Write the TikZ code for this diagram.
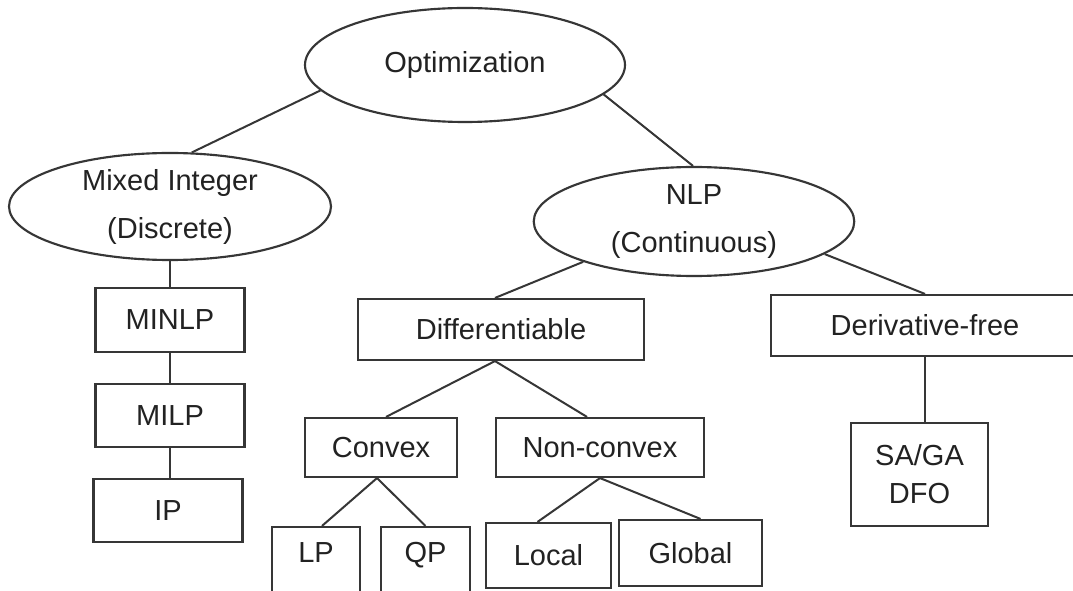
\documentclass[tikz,border=0pt]{standalone}
\usepackage{fontspec}
\setmainfont{Liberation Sans}
\usetikzlibrary{shapes.geometric,calc}
\definecolor{ln}{HTML}{363636}
\definecolor{tx}{HTML}{222222}
\tikzset{
  oval/.style={ellipse, draw=ln, line width=1.6pt, inner sep=0pt, text=tx, align=center,
    font=\fontsize{21.75}{36}\selectfont},
  bx/.style={rectangle, draw=ln, line width=1.6pt, inner sep=0pt, text=tx, align=center,
    font=\fontsize{21.75}{28.5}\selectfont},
  link/.style={draw=ln, line width=1.5pt}
}
\begin{document}
\begin{tikzpicture}[x=0.75pt,y=-0.75pt]
\clip (0,0) rectangle (1073,591);
\fill[white] (0,0) rectangle (1073,591);
% ellipses
\node[oval, minimum width=240pt, minimum height=85.5pt] (opt) at (465,65) {Optimization};
\node[oval, minimum width=241.5pt, minimum height=80.25pt] (mixed) at (170,206.5) {Mixed Integer\\(Discrete)};
\node[oval, minimum width=240.4pt, minimum height=81.75pt] (nlp) at (694,221.5) {NLP\\(Continuous)};
% left column
\node[bx, minimum width=111.75pt, minimum height=48pt] (minlp) at (170,320) {MINLP};
\node[bx, minimum width=111.75pt, minimum height=47.25pt] (milp) at (170,415.5) {MILP};
\node[bx, minimum width=111.75pt, minimum height=47.25pt] (ip) at (168,510.5) {IP};
% NLP subtree
\node[bx, minimum width=214.5pt, minimum height=45.75pt] (diff) at (501,329.5) {Differentiable};
\node[bx, minimum width=231pt, minimum height=45.75pt] (deriv) at (925,325.5) {Derivative-free};
\node[bx, minimum width=114pt, minimum height=44.25pt] (convex) at (381,447.5) {Convex};
\node[bx, minimum width=156pt, minimum height=44.25pt] (nc) at (600,447.5) {Non-convex};
\node[bx, minimum width=102.75pt, minimum height=77.25pt] (saga) at (919.5,474.5) {SA/GA\\DFO};
\node[bx, minimum width=66pt, minimum height=62.25pt, text height=16pt, text depth=25.2pt] (lp) at (316,568.5) {LP};
\node[bx, minimum width=66.75pt, minimum height=62.25pt, text height=16pt, text depth=25.2pt] (qp) at (425.5,568.5) {QP};
\node[bx, minimum width=93.75pt, minimum height=48.75pt] (local) at (548.5,555.5) {Local};
\node[bx, minimum width=107.25pt, minimum height=49.5pt] (global) at (690.5,553) {Global};
% connectors
\draw[link] (opt.190) -- (mixed.68);
\draw[link] (opt.348) -- (nlp.91);
\draw[link] (mixed.south) -- (minlp.north);
\draw[link] (minlp.south) -- (milp.north);
\draw[link] (milp.south) -- (milp.south |- ip.north);
\draw[link] (nlp.200) -- ($(diff.north)+(-6,0)$);
\draw[link] (nlp.346) -- (deriv.north);
\draw[link] ($(diff.south)+(-6,0)$) -- ($(convex.north)+(5,0)$);
\draw[link] ($(diff.south)+(-6,0)$) -- ($(nc.north)+(-13,0)$);
\draw[link] (deriv.south) -- (deriv.south |- saga.north);
\draw[link] ($(convex.south)+(-4,0)$) -- ($(lp.north)+(6,0)$);
\draw[link] ($(convex.south)+(-4,0)$) -- (qp.north);
\draw[link] (nc.south) -- ($(local.north)+(-11,0)$);
\draw[link] (nc.south) -- ($(global.north)+(10,0)$);
\end{tikzpicture}
\end{document}
